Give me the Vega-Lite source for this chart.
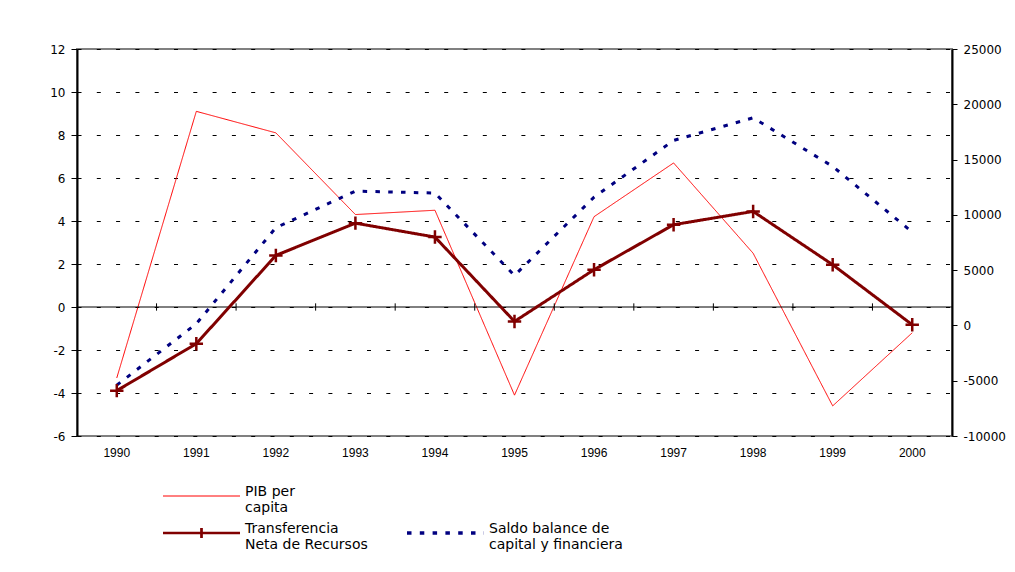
{
  "$schema": "https://vega.github.io/schema/vega-lite/v6.json",
  "width": 875,
  "height": 387,
  "autosize": {"type": "none"},
  "padding": {"left": 77, "top": 49, "right": 63, "bottom": 136},
  "background": "white",
  "config": {
    "view": {"stroke": "#808080", "strokeWidth": 2},
    "font": "DejaVu Sans",
    "axis": {"labelColor": "black", "domainColor": "black", "tickColor": "black"}
  },
  "data": {
    "values": [
      {"year": 1990, "series": "PIB per capita", "value": -3.3},
      {"year": 1991, "series": "PIB per capita", "value": 9.1},
      {"year": 1992, "series": "PIB per capita", "value": 8.1},
      {"year": 1993, "series": "PIB per capita", "value": 4.3},
      {"year": 1994, "series": "PIB per capita", "value": 4.5},
      {"year": 1995, "series": "PIB per capita", "value": -4.1},
      {"year": 1996, "series": "PIB per capita", "value": 4.2},
      {"year": 1997, "series": "PIB per capita", "value": 6.7},
      {"year": 1998, "series": "PIB per capita", "value": 2.5},
      {"year": 1999, "series": "PIB per capita", "value": -4.6},
      {"year": 2000, "series": "PIB per capita", "value": -1.2},
      {"year": 1990, "series": "Transferencia Neta de Recursos", "value": -5900},
      {"year": 1991, "series": "Transferencia Neta de Recursos", "value": -1650},
      {"year": 1992, "series": "Transferencia Neta de Recursos", "value": 6330},
      {"year": 1993, "series": "Transferencia Neta de Recursos", "value": 9250},
      {"year": 1994, "series": "Transferencia Neta de Recursos", "value": 7990},
      {"year": 1995, "series": "Transferencia Neta de Recursos", "value": 360},
      {"year": 1996, "series": "Transferencia Neta de Recursos", "value": 5040},
      {"year": 1997, "series": "Transferencia Neta de Recursos", "value": 9110},
      {"year": 1998, "series": "Transferencia Neta de Recursos", "value": 10310},
      {"year": 1999, "series": "Transferencia Neta de Recursos", "value": 5490},
      {"year": 2000, "series": "Transferencia Neta de Recursos", "value": 60},
      {"year": 1990, "series": "Saldo balance de capital y financiera", "value": -5400},
      {"year": 1991, "series": "Saldo balance de capital y financiera", "value": 150},
      {"year": 1992, "series": "Saldo balance de capital y financiera", "value": 8840},
      {"year": 1993, "series": "Saldo balance de capital y financiera", "value": 12150},
      {"year": 1994, "series": "Saldo balance de capital y financiera", "value": 11970},
      {"year": 1995, "series": "Saldo balance de capital y financiera", "value": 4520},
      {"year": 1996, "series": "Saldo balance de capital y financiera", "value": 11600},
      {"year": 1997, "series": "Saldo balance de capital y financiera", "value": 16730},
      {"year": 1998, "series": "Saldo balance de capital y financiera", "value": 18780},
      {"year": 1999, "series": "Saldo balance de capital y financiera", "value": 14380},
      {"year": 2000, "series": "Saldo balance de capital y financiera", "value": 8440}
    ]
  },
  "layer": [
    {
      "layer": [
        {
          "transform": [{"filter": "datum.series == 'PIB per capita'"}],
          "mark": {"type": "line", "strokeWidth": 1},
          "encoding": {
            "x": {"field": "year", "type": "ordinal", "scale": {"type": "band", "paddingInner": 0, "paddingOuter": 0},
                  "axis": {"orient": "bottom", "title": null, "domain": false, "ticks": false, "labelPadding": 11, "labelAngle": 0, "labelFont": "Liberation Sans", "labelFontSize": 12}},
            "y": {"field": "value", "type": "quantitative", "scale": {"domain": [-6, 12], "nice": false, "zero": false},
                  "axis": {"orient": "left", "title": null, "values": [-6, -4, -2, 0, 2, 4, 6, 8, 10, 12], "labelExpr": "'' + datum.value", "grid": true, "gridColor": "black", "gridDash": [4, 15.3], "gridWidth": 1, "domainWidth": 2, "tickSize": 6, "labelPadding": 6, "labelFontSize": 12, "labelFont": "DejaVu Sans"}},
            "color": {"field": "series", "type": "nominal",
                      "scale": {"domain": ["PIB per capita", " ", "Transferencia Neta de Recursos", "Saldo balance de capital y financiera"], "range": ["#FF0000", "transparent", "#800000", "#000080"]},
                      "legend": {"title": null, "orient": "none", "legendX": 84, "legendY": 429, "columns": 2, "direction": "horizontal", "padding": 0, "columnPadding": 37, "rowPadding": 0, "clipHeight": 36,
                                 "symbolType": "stroke", "symbolSize": 5929, "labelOffset": 3, "labelLimit": 300,
                                 "labelFont": "DejaVu Sans", "labelFontSize": 14, "labelColor": "black", "labelBaseline": "alphabetic",
                                 "labelExpr": "datum.value == 'PIB per capita' ? ['PIB per', 'capita'] : datum.value == 'Transferencia Neta de Recursos' ? ['Transferencia', 'Neta de Recursos'] : datum.value == 'Saldo balance de capital y financiera' ? ['Saldo balance de', 'capital y financiera'] : ''"}},
            "strokeDash": {"field": "series", "type": "nominal",
                           "scale": {"domain": ["PIB per capita", " ", "Transferencia Neta de Recursos", "Saldo balance de capital y financiera"], "range": [[1, 0], [1, 0], [1, 0], [4.5, 8.3]]}}
          }
        },
        {
          "transform": [{"filter": "datum.series == 'PIB per capita' && datum.year == 1990"}],
          "mark": {"type": "rule", "color": "black", "strokeWidth": 1},
          "encoding": {"y": {"datum": 0, "type": "quantitative"}}
        },
        {
          "transform": [{"filter": "datum.series == 'PIB per capita' && datum.year > 1990"}],
          "mark": {"type": "rule", "color": "black", "strokeWidth": 1},
          "encoding": {
            "x": {"field": "year", "type": "ordinal", "bandPosition": 0},
            "y": {"datum": -0.17, "type": "quantitative"},
            "y2": {"datum": 0.17}
          }
        }
      ]
    },
    {
      "layer": [
        {
          "transform": [{"filter": "datum.series != 'PIB per capita'"}],
          "mark": {"type": "line", "strokeWidth": 3},
          "encoding": {
            "x": {"field": "year", "type": "ordinal"},
            "y": {"field": "value", "type": "quantitative", "scale": {"domain": [-10000, 25000], "nice": false, "zero": false},
                  "axis": {"orient": "right", "title": null, "values": [-10000, -5000, 0, 5000, 10000, 15000, 20000, 25000], "labelExpr": "'' + datum.value", "grid": false, "domainWidth": 2, "tickSize": 5, "labelPadding": 6, "labelFontSize": 12, "labelFont": "DejaVu Sans"}},
            "color": {"field": "series", "type": "nominal",
                      "scale": {"domain": ["PIB per capita", " ", "Transferencia Neta de Recursos", "Saldo balance de capital y financiera"], "range": ["#FF0000", "transparent", "#800000", "#000080"]}},
            "strokeDash": {"field": "series", "type": "nominal",
                           "scale": {"domain": ["PIB per capita", " ", "Transferencia Neta de Recursos", "Saldo balance de capital y financiera"], "range": [[1, 0], [1, 0], [1, 0], [4.5, 8.3]]}}
          }
        },
        {
          "transform": [{"filter": "datum.series == 'Transferencia Neta de Recursos'"}],
          "mark": {"type": "point", "shape": "M-1,0H1M0,-1V1", "size": 180, "filled": false, "stroke": "#800000", "strokeWidth": 2.5, "opacity": 1},
          "encoding": {
            "x": {"field": "year", "type": "ordinal"},
            "y": {"field": "value", "type": "quantitative"}
          }
        },
        {
          "transform": [{"filter": "datum.year < 0"}],
          "mark": {"type": "point", "filled": false, "opacity": 1},
          "encoding": {
            "x": {"field": "year", "type": "ordinal"},
            "y": {"field": "value", "type": "quantitative"},
            "color": {"field": "series", "type": "nominal",
                      "scale": {"domain": ["PIB per capita", " ", "Transferencia Neta de Recursos", "Saldo balance de capital y financiera"], "range": ["#FF0000", "transparent", "#800000", "#000080"]}},
            "strokeDash": {"field": "series", "type": "nominal",
                           "scale": {"domain": ["PIB per capita", " ", "Transferencia Neta de Recursos", "Saldo balance de capital y financiera"], "range": [[1, 0], [1, 0], [1, 0], [4.5, 8.3]]}},
            "shape": {"field": "series", "type": "nominal",
                      "scale": {"domain": ["PIB per capita", " ", "Transferencia Neta de Recursos", "Saldo balance de capital y financiera"], "range": ["stroke", "stroke", "M-1,0H1M0,-0.13V0.13", "stroke"]}},
            "strokeWidth": {"field": "series", "type": "ordinal",
                            "scale": {"type": "point", "padding": 0, "domain": ["PIB per capita", " ", "Transferencia Neta de Recursos", "Saldo balance de capital y financiera"], "range": [1, 3.6]}}
          }
        }
      ]
    }
  ],
  "resolve": {"scale": {"y": "independent"}}
}
